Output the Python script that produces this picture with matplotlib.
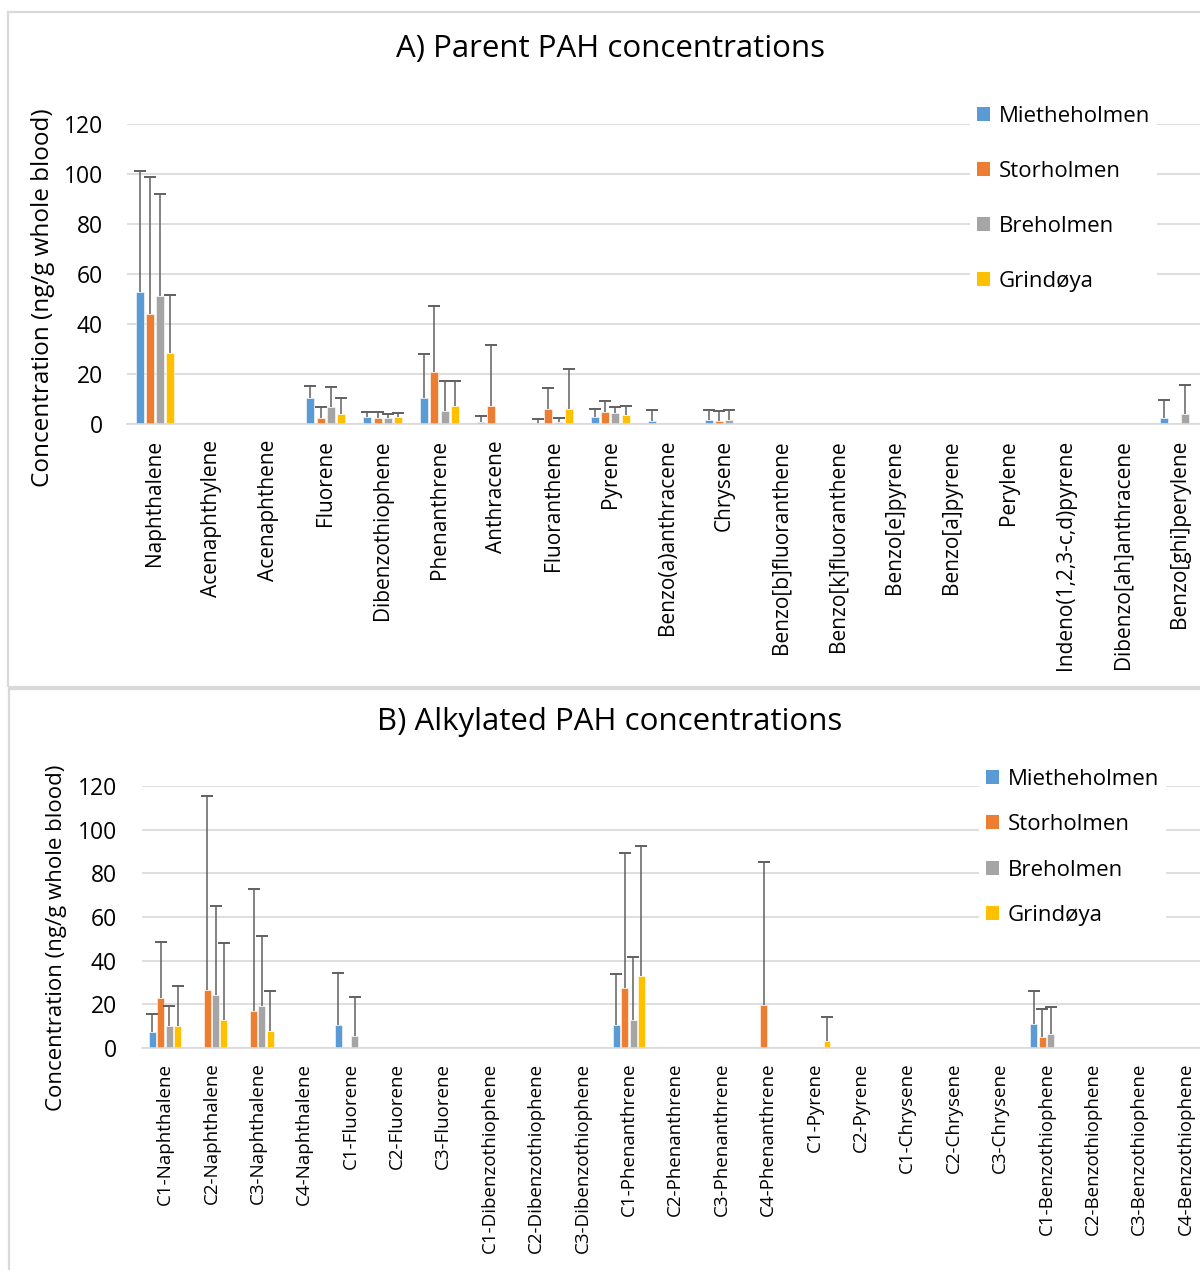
import numpy as np
import matplotlib
matplotlib.use("Agg")
import matplotlib.pyplot as plt
from matplotlib.patches import Patch, Rectangle

plt.rcParams['font.family'] = ['Open Sans', 'DejaVu Sans']

sites = ['Mietheholmen', 'Storholmen', 'Breholmen', 'Grindøya']
colors = ['#5B9BD5', '#ED7D31', '#A5A5A5', '#FFC000']

# parent PAHs: mean and SD per site (ng/g whole blood)
parent = ['Naphthalene', 'Acenaphthylene', 'Acenaphthene', 'Fluorene',
          'Dibenzothiophene', 'Phenanthrene', 'Anthracene', 'Fluoranthene',
          'Pyrene', 'Benzo(a)anthracene', 'Chrysene', 'Benzo[b]fluoranthene',
          'Benzo[k]fluoranthene', 'Benzo[e]pyrene', 'Benzo[a]pyrene', 'Perylene',
          'Indeno(1,2,3-c,d)pyrene', 'Dibenzo[ah]anthracene', 'Benzo[ghi]perylene']
parent_mean = [
    [52.9, 0, 0, 10.3, 2.8, 10.3, 0.7, 0.3, 2.7, 1.1, 1.7, 0, 0, 0, 0, 0, 0, 0, 2.3],
    [43.9, 0, 0, 2.5, 2.5, 20.8, 7.2, 5.9, 4.8, 0, 1.3, 0, 0, 0, 0, 0, 0, 0, 0],
    [51.3, 0, 0, 6.8, 2.5, 5.2, 0, 0.7, 4.3, 0, 1.7, 0, 0, 0, 0, 0, 0, 0, 3.9],
    [28.3, 0, 0, 4.0, 2.8, 7.2, 0, 5.9, 3.6, 0, 0, 0, 0, 0, 0, 0, 0, 0, 0],
]
parent_sd = [
    [48.1, 0, 0, 4.9, 2.1, 17.6, 2.6, 1.6, 3.4, 4.4, 4.0, 0, 0, 0, 0, 0, 0, 0, 7.4],
    [54.8, 0, 0, 4.4, 2.4, 26.5, 24.4, 8.4, 4.3, 0, 3.8, 0, 0, 0, 0, 0, 0, 0, 0],
    [40.6, 0, 0, 8.1, 1.6, 11.9, 0, 1.8, 2.6, 0, 3.8, 0, 0, 0, 0, 0, 0, 0, 11.7],
    [23.3, 0, 0, 6.4, 1.7, 10.1, 0, 16.1, 3.7, 0, 0, 0, 0, 0, 0, 0, 0, 0, 0],
]

# alkylated PAHs
alkyl = ['C1-Naphthalene', 'C2-Naphthalene', 'C3-Naphthalene', 'C4-Naphthalene',
         'C1-Fluorene', 'C2-Fluorene', 'C3-Fluorene', 'C1-Dibenzothiophene',
         'C2-Dibenzothiophene', 'C3-Dibenzothiophene', 'C1-Phenanthrene',
         'C2-Phenanthrene', 'C3-Phenanthrene', 'C4-Phenanthrene', 'C1-Pyrene',
         'C2-Pyrene', 'C1-Chrysene', 'C2-Chrysene', 'C3-Chrysene',
         'C1-Benzothiophene', 'C2-Benzothiophene', 'C3-Benzothiophene',
         'C4-Benzothiophene']
alkyl_mean = [
    [7.3, 0, 0, 0, 10.7, 0, 0, 0, 0, 0, 10.7, 0, 0, 0, 0, 0, 0, 0, 0, 11.0, 0, 0, 0],
    [23.1, 26.5, 17.0, 0, 0, 0, 0, 0, 0, 0, 27.3, 0, 0, 19.6, 0, 0, 0, 0, 0, 4.9, 0, 0, 0],
    [10.2, 24.3, 19.2, 0, 5.4, 0, 0, 0, 0, 0, 12.7, 0, 0, 0, 0, 0, 0, 0, 0, 6.4, 0, 0, 0],
    [9.9, 12.7, 7.8, 0, 0, 0, 0, 0, 0, 0, 33.0, 0, 0, 0, 3.1, 0, 0, 0, 0, 0, 0, 0, 0],
]
alkyl_sd = [
    [8.1, 0, 0, 0, 23.7, 0, 0, 0, 0, 0, 23.3, 0, 0, 0, 0, 0, 0, 0, 0, 14.9, 0, 0, 0],
    [25.4, 89.1, 55.8, 0, 0, 0, 0, 0, 0, 0, 61.9, 0, 0, 65.6, 0, 0, 0, 0, 0, 12.8, 0, 0, 0],
    [9.1, 40.8, 32.3, 0, 17.8, 0, 0, 0, 0, 0, 29.1, 0, 0, 0, 0, 0, 0, 0, 0, 12.6, 0, 0, 0],
    [18.5, 35.5, 18.2, 0, 0, 0, 0, 0, 0, 0, 59.4, 0, 0, 0, 11.3, 0, 0, 0, 0, 0, 0, 0, 0],
]

W, H = 1200, 1270
fig = plt.figure(figsize=(W / 100, H / 100), dpi=100)

# chart area frames
for x0, y_top, y_bot in [(8, 12, 687), (9, 689, 1290)]:
    fig.add_artist(Rectangle((x0 / W, 1 - y_bot / H), 1.05, (y_bot - y_top) / H,
                             transform=fig.transFigure, fill=False,
                             edgecolor='#d9d9d9', lw=1.6))


def draw_panel(rect, cats, means, sds, step, width, label_size, xpad, ypad):
    ax = fig.add_axes(rect)
    x = np.arange(len(cats))
    for i in range(4):
        m = np.array(means[i], dtype=float)
        s = np.array(sds[i], dtype=float)
        xi = x + (i - 1.5) * step
        ax.bar(xi, m, width, color=colors[i], edgecolor='white', lw=0.4, zorder=2)
        k = s > 0
        ax.vlines(xi[k], m[k], m[k] + s[k], color='#606060', lw=1.1, zorder=3)
        ax.plot(xi[k], m[k] + s[k], ls='none', marker='_', ms=8, mew=1.4,
                color='#606060', zorder=3)
    ax.set_xlim(-0.5, len(cats) - 0.5)
    ax.set_ylim(0, 120)
    ax.set_yticks(np.arange(0, 121, 20))
    ax.set_xticks(x)
    ax.set_xticklabels(cats, rotation=90, fontsize=label_size, va='top')
    ax.tick_params(axis='y', length=0, pad=ypad, labelsize=16.5)
    ax.tick_params(axis='x', length=0, pad=xpad)
    ax.set_axisbelow(True)
    ax.yaxis.grid(True, color='#d9d9d9', lw=1.2)
    for side in ['top', 'right', 'left']:
        ax.spines[side].set_visible(False)
    ax.spines['bottom'].set_color('#d9d9d9')
    ax.spines['bottom'].set_linewidth(1.2)
    return ax


axA = draw_panel([126.5 / W, 1 - 424 / H, 1081.5 / W, 300 / H],
                 parent, parent_mean, parent_sd, 0.18, 0.14, 15, 11.5, 17)
axB = draw_panel([141.8 / W, 1 - 1048 / H, 1067 / W, 262 / H],
                 alkyl, alkyl_mean, alkyl_sd, 0.18, 0.15, 13.5, 10.5, 18)

fig.text(610 / W, 1 - 49 / H, 'A) Parent PAH concentrations', fontsize=22.5,
         ha='center', va='center')
fig.text(610 / W, 1 - 722 / H, 'B) Alkylated PAH concentrations', fontsize=22.5,
         ha='center', va='center')
fig.text(43 / W, 1 - 298 / H, 'Concentration (ng/g whole blood)', fontsize=17.5,
         rotation=90, ha='center', va='center')
fig.text(57 / W, 1 - 938 / H, 'Concentration (ng/g whole blood)', fontsize=16,
         rotation=90, ha='center', va='center')

handles = [Patch(facecolor=c, edgecolor='none') for c in colors]
for ax, anchor, spacing in [(axA, (970 / W, 1 - 99 / H), 1.53),
                            (axB, (979 / W, 1 - 762 / H), 1.1)]:
    fig.legend(handles, sites, loc='upper left', bbox_to_anchor=anchor,
               fontsize=16, frameon=True, facecolor='white', edgecolor='none',
               framealpha=1, fancybox=False, labelspacing=spacing,
               handlelength=0.6, handleheight=0.6, handletextpad=0.4,
               borderpad=0.3, borderaxespad=0)

fig.savefig('out.png', dpi=100)
